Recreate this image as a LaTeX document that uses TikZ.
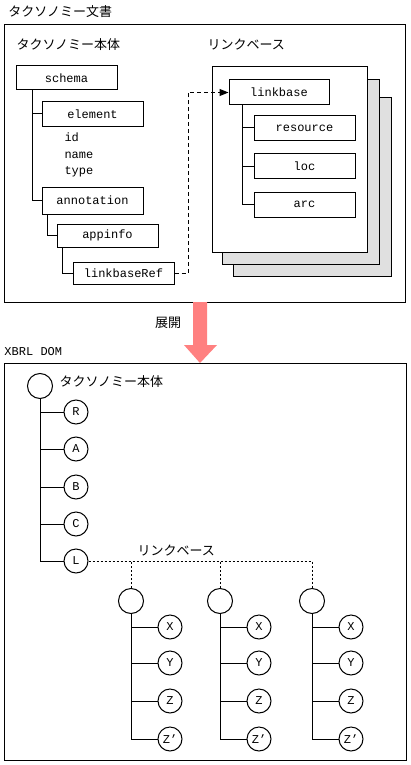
\documentclass[tikz,border=0pt]{standalone}
\usepackage{fontspec}
\setmainfont{Liberation Mono}
\newfontfamily\jp{Noto Sans CJK JP}
\usetikzlibrary{arrows.meta}
\definecolor{pinkarrow}{RGB}{255,128,128}
\definecolor{pagegray}{RGB}{224,224,224}
\tikzset{
  every picture/.style={line width=1pt},
  lat/.style={font=\fontsize{12}{14}\selectfont, inner sep=0pt},
  jtxt/.style={font=\jp\fontsize{13}{15}\selectfont, inner sep=0pt, anchor=west},
  tbox/.style={draw, lat, fill=white, minimum width=101pt, minimum height=25pt},
  cnode/.style={draw, circle, lat, minimum size=24pt, inner sep=0pt},
  cbig/.style={draw, circle, minimum size=25pt, inner sep=0pt},
  page/.style={draw, fill=pagegray},
  dashconn/.style={dash pattern=on 4pt off 3pt},
  dotconn/.style={dash pattern=on 2pt off 2pt}
}
\begin{document}
\begin{tikzpicture}[x=1pt,y=-1pt]
\useasboundingbox (0,0) rectangle (411,765);
% ---- top part
\node[jtxt] (title) at (8,12) {タクソノミー文書};
\draw (4,25) rectangle (405,302);
\node[jtxt] (bodylabel) at (16,45) {タクソノミー本体};
\node[jtxt] (lblabel) at (207,45) {リンクベース};
% linkbase pages
\draw[page] (233,98) rectangle (391,276);
\draw[page] (222,80) rectangle (379,264);
\draw[fill=white] (212,67) rectangle (367,252);
% schema tree
\node[tbox, minimum height=24pt] (schema) at (66.5,78) {schema};
\node[tbox] (element) at (92.5,114) {element};
\node[lat, anchor=west] (idt) at (64,137) {id};
\node[lat, anchor=west] (namet) at (64,155) {name};
\node[lat, anchor=west] (typet) at (64,172) {type};
\node[tbox, minimum height=27pt] (annot) at (92.5,200.5) {annotation};
\node[tbox, minimum height=23pt] (appinfo) at (107.5,235.5) {appinfo};
\node[tbox, minimum height=22pt] (lbr) at (123.5,273) {linkbaseRef};
\draw ([xshift=17pt]schema.south west) |- (element.west);
\draw ([xshift=17pt]schema.south west) |- (annot.west);
\draw ([xshift=6pt]annot.south west) |- (appinfo.west);
\draw ([xshift=6pt]appinfo.south west) |- (lbr.west);
% linkbase tree
\node[tbox, minimum width=100pt] (lb) at (279,92.5) {linkbase};
\node[tbox] (res) at (304.5,128) {resource};
\node[tbox] (loc) at (304.5,166) {loc};
\node[tbox] (arc) at (304.5,204.5) {arc};
\draw ([xshift=14pt]lb.south west) |- (res.west);
\draw ([xshift=14pt]lb.south west) |- (loc.west);
\draw ([xshift=14pt]lb.south west) |- (arc.west);
% dashed reference
\coordinate (dturn) at (188,273);
\draw[dashconn, -{Triangle[length=9pt,width=7pt]}] (lbr.east) -- (dturn) |- (lb.west);
% ---- expansion arrow
\fill[pinkarrow] (193,302) -- (207,302) -- (207,345) -- (217,345) -- (200,363) -- (184,345) -- (193,345) -- cycle;
\node[font=\jp\fontsize{13}{15}\selectfont, inner sep=0pt] (expand) at (168,323) {展開};
% ---- bottom part
\node[lat, anchor=west] (dom) at (4,352) {XBRL DOM};
\draw (4,363) rectangle (406,760);
\node[cbig] (root) at (40,386) {};
\node[jtxt] (rootlabel) at (59,382) {タクソノミー本体};
\node[cnode] (R) at (76,412) {R};
\node[cnode] (A) at (76,449) {A};
\node[cnode] (B) at (76,487) {B};
\node[cnode] (C) at (76,524) {C};
\node[cnode] (L) at (76,561) {L};
\foreach \n in {R,A,B,C,L} \draw (root.south) |- (\n.west);
\node[jtxt] (lblabel2) at (137,551) {リンクベース};
\foreach \i/\cx in {1/131,2/220,3/312} {
  \node[cbig] (c\i) at (\cx,601) {};
  \node[cnode] (x\i) at (\cx+39,627) {X};
  \node[cnode] (y\i) at (\cx+39,663) {Y};
  \node[cnode] (z\i) at (\cx+39,701) {Z};
  \node[cnode] (zz\i) at (\cx+39,739) {Z'};
  \foreach \n in {x,y,z,zz} \draw (c\i.south) |- (\n\i.west);
}
\draw[dotconn] (L.east) -| (c3.north);
\draw[dotconn] (c1.north) -- (c1.north |- L.east);
\draw[dotconn] (c2.north) -- (c2.north |- L.east);
\end{tikzpicture}
\end{document}
